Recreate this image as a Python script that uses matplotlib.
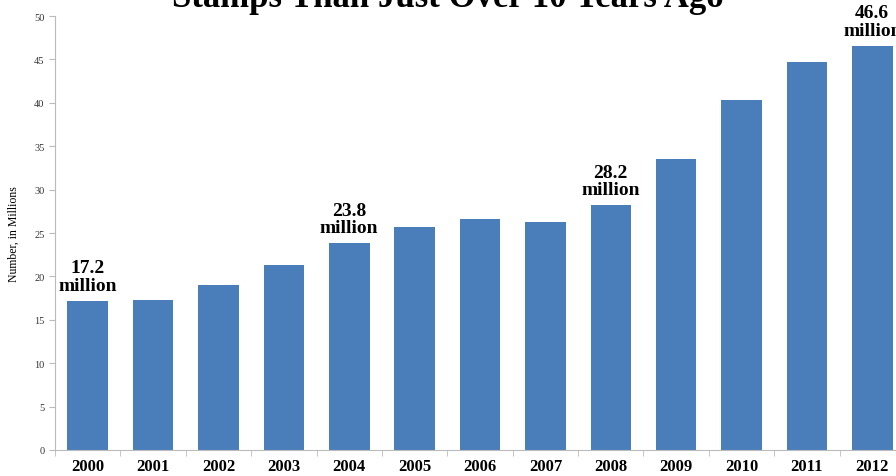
import matplotlib.pyplot as plt

years = ['2000', '2001', '2002', '2003', '2004', '2005', '2006',
         '2007', '2008', '2009', '2010', '2011', '2012']
recipients = [17.2, 17.3, 19.0, 21.3, 23.8, 25.7, 26.6, 26.3, 28.2, 33.5, 40.3, 44.7, 46.6]
callouts = {0: '17.2\nmillion', 4: '23.8\nmillion', 8: '28.2\nmillion', 12: '46.6\nmillion'}

plt.rcParams['font.family'] = ['Liberation Serif', 'DejaVu Serif']

fig = plt.figure(figsize=(8.96, 4.77), dpi=100)
ax = fig.add_axes([55 / 896, 26 / 477, 850 / 896, 434 / 477])

x = range(len(years))
ax.bar(x, recipients, width=0.62, color='#4a7ebb', zorder=2)

for i, txt in callouts.items():
    ax.text(i, recipients[i] + 0.8, txt, ha='center', va='bottom',
            fontsize=14, fontweight='bold', linespacing=1.05)

ax.set_xlim(-0.5, len(years) - 0.5)
ax.set_ylim(0, 50)
ax.set_yticks(range(0, 51, 5))
ax.tick_params(axis='y', labelsize=7.5, colors='#333333', length=4, width=0.8)
ax.tick_params(axis='y', color='#bbbbbb')
ax.set_xticks(list(x))
ax.set_xticklabels(years, fontsize=12, fontweight='bold')
ax.set_xticks([i + 0.5 for i in range(-1, len(years))], minor=True)
ax.tick_params(axis='x', which='major', length=0, pad=6)
ax.tick_params(axis='x', which='minor', length=4, color='#bbbbbb')

for side in ['top', 'right']:
    ax.spines[side].set_visible(False)
ax.spines['left'].set_color('#bbbbbb')
ax.spines['bottom'].set_color('#bbbbbb')

ax.set_ylabel('Number, in Millions', fontsize=8.5, labelpad=10)

fig.text(0.5, 1 - 7 / 477, 'Stamps Than Just Over 10 Years Ago', ha='center',
         va='baseline', fontsize=25, fontweight='bold')

fig.savefig('out.png', dpi=100)
